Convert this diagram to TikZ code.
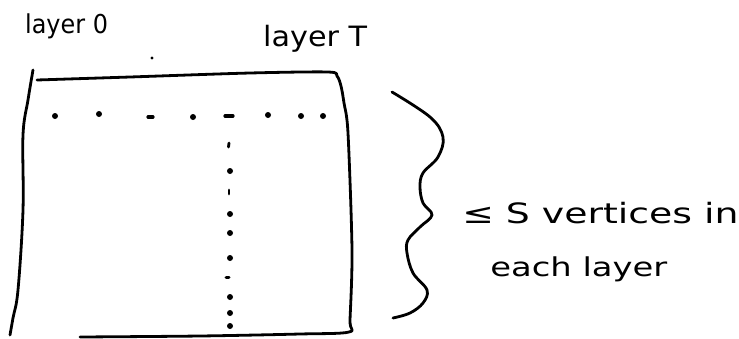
\documentclass[tikz,border=0pt]{standalone}
\usepackage{fontspec}
\setmainfont{DejaVu Sans}
\begin{document}
\begin{tikzpicture}[x=1pt,y=-1pt,
  pen/.style={line width=2.8pt,line cap=round,line join=round,black},
  dot/.style={fill=black,draw=none},
  hand/.style={inner sep=0pt,transform shape,anchor=base west}]
\useasboundingbox (0,0) rectangle (739,338);

% left edge of the grid
\draw[pen] plot[smooth,tension=0.6] coordinates {(33,70) (28,100) (23,135) (23,210) (18,290) (13,318) (10,335)};
% top, right and bottom edges
\draw[pen] plot[smooth,tension=0.5] coordinates {(37,80) (130,77) (250,73) (328,72) (337,76) (341,86) (344,103) (348,133) (352,250) (350,320) (349,332) (300,334) (200,336) (80,337)};

% stray mark above the grid
\fill[dot] (152,58) circle (1.6);

% layer 0 vertices across the top row
\foreach \x/\y in {55/116, 99/114, 193/117, 268/115, 301/116, 323/116}
  \fill[dot] (\x,\y) circle (3);
\draw[pen,line width=3.2pt] (148,117) -- (153,117);
\draw[pen,line width=3.2pt] (225,116) -- (233,116);

% vertices of one layer down the column
\foreach \y in {171, 214, 233, 258, 297, 313, 326}
  \fill[dot] (230,\y) circle (3);
\draw[pen,line width=2.8pt] (229,143) -- (228.5,147);
\draw[pen,line width=2.8pt] (229,190) -- (229,194);
\draw[pen,line width=3pt] (226,277) -- (229,277);

% brace spanning the grid height
\draw[pen] plot[smooth,tension=0.6] coordinates {(392,92) (430,117) (443,137) (438,157) (423,173) (420,187) (423,203) (432,215) (420,227) (408,240) (407,253) (413,273) (427,290) (423,303) (410,313) (393,318)};

% labels
\node[hand,xscale=0.92,font=\fontsize{26}{28}\selectfont] (l0) at (25,33) {layer 0};
\node[hand,xscale=1.08,font=\fontsize{28}{30}\selectfont] (lT) at (263,46) {layer T};
\node[hand,xscale=1.35,font=\fontsize{28}{30}\selectfont] (bound) at (462,223) {≤ S vertices in};
\node[hand,xscale=1.3,font=\fontsize{26}{28}\selectfont] (each) at (490,276) {each layer};
\end{tikzpicture}
\end{document}
